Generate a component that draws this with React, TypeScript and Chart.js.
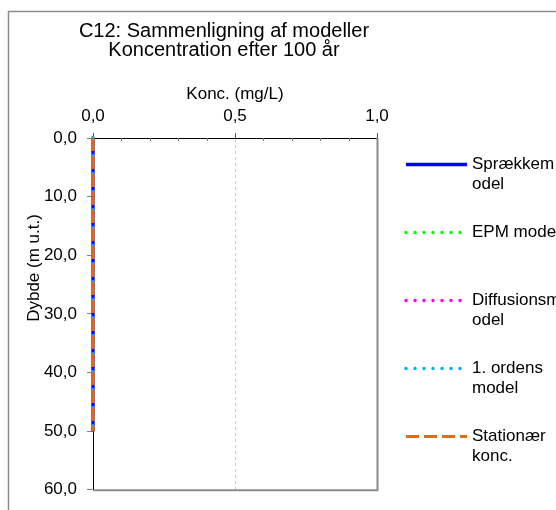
import React, { useEffect, useRef } from 'react';
import { Chart, registerables } from 'chart.js';

Chart.register(...registerables);

// ---- data ----
const depths = [0, 5, 10, 15, 20, 25, 30, 35, 40, 45, 50];
const sprakkemodel = [0, 0, 0, 0, 0, 0, 0, 0, 0, 0, 0];
const epmModel = [0, 0, 0, 0, 0, 0, 0, 0, 0, 0, 0];
const diffusionsmodel = [0, 0, 0, 0, 0, 0, 0, 0, 0, 0, 0];
const ordensModel = [0, 0, 0, 0, 0, 0, 0, 0, 0, 0, 0];
const stationaerKonc = [0, 0, 0, 0, 0, 0, 0, 0, 0, 0, 0];
const seriesNames = ['Sprækkemodel', 'EPM model', 'Diffusionsmodel', '1. ordens model', 'Stationær konc.'];
const xTicks = [0, 0.5, 1.0];
const xMinorTicks = [0.1, 0.2, 0.3, 0.4, 0.6, 0.7, 0.8, 0.9];
const yTicks = [0, 10, 20, 30, 40, 50, 60];
const titleLines = ['C12: Sammenligning af modeller', 'Koncentration efter 100 år'];
const xTitle = 'Konc. (mg/L)';
const yTitle = 'Dybde (m u.t.)';

const FONT = '"Liberation Sans", Arial, Helvetica, sans-serif';
const fmt = (v: number) => v.toFixed(1).replace('.', ',');

function toPoints(vals: number[]) {
  return vals.map((v, i) => ({ x: v, y: depths[i] }));
}

function wrapText(ctx: CanvasRenderingContext2D, text: string, maxW: number) {
  const words = text.split(' ');
  const lines: string[] = [];
  let cur = '';
  for (const w of words) {
    const cand = cur ? cur + ' ' + w : w;
    if (ctx.measureText(cand).width <= maxW) { cur = cand; continue; }
    if (cur) { lines.push(cur); cur = ''; }
    let piece = '';
    for (const ch of w) {
      if (!piece || ctx.measureText(piece + ch).width <= maxW) piece += ch;
      else { lines.push(piece); piece = ch; }
    }
    cur = piece;
  }
  if (cur) lines.push(cur);
  return lines;
}

const decorPlugin = {
  id: 'decor',
  beforeDraw(chart: any) {
    const { ctx, width, height } = chart;
    ctx.save();
    ctx.fillStyle = '#fff';
    ctx.fillRect(0, 0, width, height);
    // outer chart frame
    ctx.strokeStyle = '#8c8c8c';
    ctx.lineWidth = 1.5;
    ctx.beginPath();
    ctx.moveTo(8.5, height + 5);
    ctx.lineTo(8.5, 11.5);
    ctx.lineTo(width + 5, 11.5);
    ctx.stroke();
    ctx.restore();
  },
  afterDraw(chart: any) {
    const { ctx, chartArea } = chart;
    const { left, right, top, bottom } = chartArea;
    const xs = chart.scales.x;
    ctx.save();
    // right and bottom plot frame
    ctx.strokeStyle = '#8c8c8c';
    ctx.lineWidth = 2;
    ctx.beginPath();
    ctx.moveTo(right + 0.5, top);
    ctx.lineTo(right + 0.5, bottom + 0.5);
    ctx.lineTo(left, bottom + 0.5);
    ctx.stroke();
    // minor ticks on top axis
    ctx.strokeStyle = '#777';
    ctx.lineWidth = 1;
    ctx.beginPath();
    for (const v of xMinorTicks) {
      const px = Math.round(xs.getPixelForValue(v)) + 0.5;
      ctx.moveTo(px, top);
      ctx.lineTo(px, top + 3);
    }
    ctx.stroke();

    // titles
    ctx.fillStyle = '#000';
    ctx.textAlign = 'center';
    ctx.textBaseline = 'middle';
    ctx.font = '20px ' + FONT;
    titleLines.forEach((t, i) => ctx.fillText(t, 224, 31 + i * 19));
    ctx.font = '17px ' + FONT;
    ctx.fillText(xTitle, (left + right) / 2, 94);
    ctx.save();
    ctx.translate(34, 268);
    ctx.rotate(-Math.PI / 2);
    ctx.fillText(yTitle, 0, 0);
    ctx.restore();

    // legend
    ctx.textAlign = 'left';
    ctx.font = '17px ' + FONT;
    chart.data.datasets.forEach((ds: any, i: number) => {
      const y = 164 + i * 68;
      ctx.save();
      ctx.strokeStyle = ds.borderColor;
      ctx.lineWidth = ds.borderWidth;
      ctx.lineCap = ds.borderCapStyle || 'butt';
      ctx.setLineDash(ds.borderDash || []);
      ctx.beginPath();
      ctx.moveTo(406, y + 0.5);
      ctx.lineTo(467, y + 0.5);
      ctx.stroke();
      ctx.restore();
      const lines = wrapText(ctx, ds.label, 90);
      lines.forEach((ln, k) => ctx.fillText(ln, 472, y + k * 20));
    });
    ctx.restore();
  },
};

export default function App() {
  const ref = useRef<HTMLCanvasElement | null>(null);
  useEffect(() => {
    if (!ref.current) return;
    const series = [sprakkemodel, epmModel, diffusionsmodel, ordensModel, stationaerKonc];
    const styles = [
      { borderColor: '#0000FF', borderWidth: 3.3, borderDash: [], borderCapStyle: 'butt', order: 5 },
      { borderColor: '#00FF00', borderWidth: 3.5, borderDash: [0, 9], borderCapStyle: 'round', order: 4 },
      { borderColor: '#FF00FF', borderWidth: 3.5, borderDash: [0, 9], borderCapStyle: 'round', order: 3 },
      { borderColor: '#00B0F0', borderWidth: 3.5, borderDash: [0, 9], borderCapStyle: 'round', order: 2 },
      { borderColor: '#E46C0A', borderWidth: 3, borderDash: [13, 5], borderCapStyle: 'butt', order: 1 },
    ];
    const chart = new Chart(ref.current, {
      type: 'scatter',
      data: {
        datasets: series.map((vals, i) => ({
          label: seriesNames[i],
          data: toPoints(vals),
          showLine: true,
          pointRadius: 0,
          pointHoverRadius: 0,
          clip: false,
          ...styles[i],
        })) as any,
      },
      options: {
        animation: false,
        responsive: true,
        maintainAspectRatio: false,
        devicePixelRatio: 1,
        events: [],
        layout: { padding: { left: 23, top: 98, right: 179, bottom: 13 } },
        plugins: { legend: { display: false }, title: { display: false }, tooltip: { enabled: false } },
        scales: {
          x: {
            type: 'linear',
            position: 'top',
            min: 0,
            max: 1,
            afterBuildTicks: (s: any) => { s.ticks = xTicks.map((v) => ({ value: v })); },
            afterFit: (s: any) => { s.height = 40; },
            ticks: {
              color: '#000',
              padding: 6,
              font: { family: FONT, size: 17 },
              maxRotation: 0,
              callback: (v: any) => fmt(Number(v)),
            },
            grid: {
              color: (c: any) => (c.tick && c.tick.value === 0.5 ? '#c8c8c8' : 'rgba(0,0,0,0)'),
              tickColor: '#555',
              tickLength: 5,
              lineWidth: 1,
            },
            border: { display: true, color: '#000', width: 1, dash: [3, 3] },
          },
          y: {
            type: 'linear',
            reverse: true,
            min: 0,
            max: 60,
            afterBuildTicks: (s: any) => { s.ticks = yTicks.map((v) => ({ value: v })); },
            afterFit: (s: any) => { s.width = 70; },
            ticks: {
              color: '#000',
              padding: 10,
              font: { family: FONT, size: 17 },
              callback: (v: any) => fmt(Number(v)),
            },
            grid: {
              drawOnChartArea: false,
              tickColor: '#808080',
              tickLength: 6,
            },
            border: { display: true, color: '#000', width: 1 },
          },
        },
      } as any,
      plugins: [decorPlugin],
    });
    return () => chart.destroy();
  }, []);

  return (
    <div style={{ position: 'fixed', left: 0, top: 0, width: 556, height: 510, background: '#fff' }}>
      <canvas ref={ref} />
    </div>
  );
}
